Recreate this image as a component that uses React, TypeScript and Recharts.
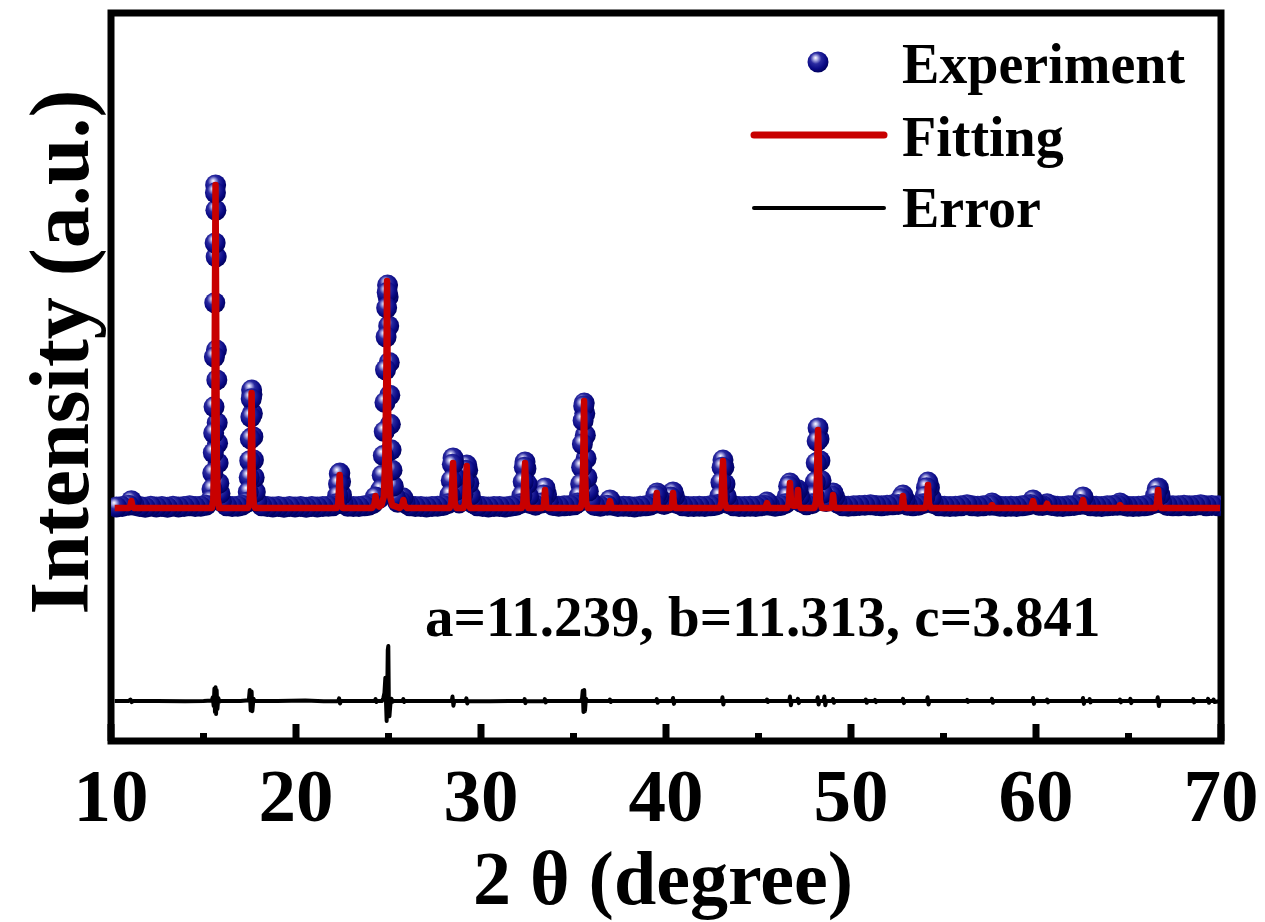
import React from "react";
import {
  ComposedChart,
  XAxis,
  YAxis,
  Scatter,
  Line,
  ReferenceArea,
  Legend,
} from "recharts";

const FONT = "'Times New Roman', 'Liberation Serif', Times, serif";

// 2θ (degree), intensity (a.u.)
const experimentPoints: [number, number][] = [
  [10.3, 15], [10.6, 20],
  [10.95, 40], [11.1, 100], [11.25, 40],
  [11.55, 20], [11.85, 10], [12.15, 25], [12.45, 15], [12.75, 20], [13.05, 10], [13.35, 25], [13.65, 15], [13.95, 20], [14.25, 30], [14.55, 20], [14.85, 25], [15.15, 40],
  [15.4, 110], [15.46, 260], [15.5, 480], [15.53, 760], [15.55, 1030], [15.57, 1390], [15.59, 2075], [15.61, 2820], [15.63, 3640], [15.645, 4330], [15.655, 4437], [15.67, 4090], [15.685, 3450], [15.7, 2170], [15.72, 1760], [15.74, 1170], [15.76, 890], [15.79, 620], [15.83, 340], [15.89, 200], [15.97, 90],
  [16.25, 30], [16.55, 20], [16.85, 25], [17.1, 40],
  [17.35, 80], [17.42, 220], [17.47, 420], [17.5, 650], [17.53, 950], [17.56, 1250], [17.58, 1500], [17.6, 1620], [17.62, 1560], [17.64, 1300], [17.67, 980], [17.7, 660], [17.74, 420], [17.8, 220], [17.88, 90],
  [18.15, 30], [18.45, 20], [18.75, 15], [19.05, 20], [19.35, 10], [19.65, 20], [19.95, 15], [20.25, 20], [20.55, 10], [20.85, 20], [21.15, 15], [21.45, 20], [21.75, 25], [22.0, 30],
  [22.18, 60], [22.25, 170], [22.3, 330], [22.34, 470], [22.37, 480], [22.41, 360], [22.46, 180], [22.54, 60],
  [22.8, 25], [23.1, 20], [23.4, 20], [23.7, 30], [23.95, 40],
  [24.15, 60], [24.28, 150], [24.36, 140], [24.48, 130], [24.58, 250], [24.66, 450], [24.72, 720], [24.77, 1050], [24.81, 1450], [24.84, 1900], [24.87, 2350], [24.9, 2750], [24.93, 2960], [24.95, 3063], [24.98, 2900], [25.01, 2500], [25.04, 2000], [25.07, 1550], [25.1, 1150], [25.14, 800], [25.19, 520], [25.26, 300], [25.36, 150], [25.5, 80], [25.66, 90], [25.78, 140], [25.9, 70],
  [26.15, 30], [26.45, 20], [26.75, 20], [27.05, 15], [27.35, 20], [27.65, 25], [27.95, 35],
  [28.22, 60], [28.32, 180], [28.39, 380], [28.45, 600], [28.49, 687], [28.53, 620], [28.58, 420], [28.64, 240], [28.72, 110], [28.82, 70], [28.92, 100], [29.02, 190], [29.1, 360], [29.17, 520], [29.23, 590], [29.28, 520], [29.34, 340], [29.42, 170], [29.52, 70],
  [29.8, 30], [30.1, 20], [30.4, 15], [30.7, 20], [31.0, 20], [31.3, 15], [31.6, 25], [31.88, 35],
  [32.12, 60], [32.21, 170], [32.28, 360], [32.34, 560], [32.38, 632], [32.43, 540], [32.49, 330], [32.57, 160], [32.67, 60],
  [32.95, 40],
  [33.28, 70], [33.37, 180], [33.46, 275], [33.54, 190], [33.64, 80],
  [33.9, 35], [34.2, 25], [34.5, 30], [34.8, 35], [35.05, 45],
  [35.22, 70], [35.32, 170], [35.39, 330], [35.44, 560], [35.48, 880], [35.52, 1200], [35.55, 1400], [35.58, 1442], [35.61, 1300], [35.64, 1000], [35.68, 680], [35.73, 420], [35.8, 230], [35.9, 100],
  [36.15, 35], [36.45, 25],
  [36.82, 40], [36.97, 110], [37.1, 40],
  [37.4, 20], [37.7, 25], [38.0, 20], [38.3, 15], [38.6, 25], [38.9, 30], [39.15, 40],
  [39.35, 60], [39.45, 170], [39.52, 206], [39.6, 150], [39.75, 60], [39.9, 50], [40.1, 70], [40.25, 150], [40.38, 220], [40.46, 160], [40.6, 60],
  [40.9, 30], [41.2, 20], [41.5, 20], [41.8, 25], [42.1, 20], [42.4, 30], [42.62, 35],
  [42.8, 50], [42.9, 160], [42.97, 350], [43.03, 560], [43.08, 659], [43.13, 560], [43.19, 330], [43.26, 160], [43.36, 60],
  [43.65, 30], [43.95, 20], [44.25, 20], [44.55, 25], [44.85, 20], [45.1, 30],
  [45.32, 40], [45.46, 82], [45.6, 40],
  [45.9, 25], [46.2, 35],
  [46.45, 60], [46.55, 160], [46.63, 300], [46.7, 343], [46.78, 280], [46.86, 200], [46.95, 180], [47.05, 230], [47.13, 250], [47.22, 160], [47.32, 80],
  [47.6, 45],
  [47.9, 60], [48.0, 170], [48.07, 360], [48.12, 620], [48.17, 920], [48.22, 1099], [48.27, 950], [48.32, 650], [48.38, 380], [48.46, 200], [48.56, 100],
  [48.66, 90], [48.8, 110], [48.92, 170], [49.03, 206], [49.12, 150], [49.25, 70],
  [49.55, 30], [49.85, 25], [50.15, 30], [50.45, 35], [50.75, 40], [51.05, 45], [51.35, 35], [51.65, 30], [51.95, 40], [52.25, 45],
  [52.55, 50], [52.7, 130], [52.81, 178], [52.92, 110], [53.05, 40],
  [53.35, 30], [53.65, 40],
  [53.9, 60], [54.0, 160], [54.08, 280], [54.16, 357], [54.24, 280], [54.33, 140], [54.45, 60],
  [54.75, 30], [55.05, 25], [55.35, 20], [55.65, 25], [55.95, 30], [56.27, 45], [56.55, 30], [56.85, 25], [57.15, 30],
  [57.5, 40], [57.62, 69], [57.74, 40],
  [58.05, 25], [58.35, 20], [58.65, 25], [58.95, 20], [59.25, 30], [59.5, 40],
  [59.7, 50], [59.84, 110], [59.96, 60], [60.15, 40], [60.35, 35], [60.6, 60], [60.85, 35],
  [61.15, 25], [61.45, 20], [61.75, 30], [62.05, 35],
  [62.38, 50], [62.54, 151], [62.68, 50],
  [62.95, 30], [63.25, 25], [63.55, 20], [63.85, 30], [64.15, 35],
  [64.4, 40], [64.54, 69], [64.68, 40],
  [64.95, 25], [65.25, 20], [65.55, 25], [65.85, 30], [66.1, 40],
  [66.35, 60], [66.46, 170], [66.55, 260], [66.62, 275], [66.7, 180], [66.8, 70],
  [67.1, 35], [67.4, 30], [67.7, 30], [68.0, 40], [68.3, 30], [68.6, 35], [68.9, 45], [69.2, 30], [69.5, 35], [69.85, 30],
];

const fittingPoints: [number, number][] = [
  [10.2, 0], [10.95, 0], [11.05, 30], [11.1, 96], [11.15, 30], [11.25, 0],
  [15.45, 0], [15.53, 120], [15.58, 700], [15.62, 2900], [15.65, 4437], [15.68, 2900], [15.72, 700], [15.77, 120], [15.85, 0],
  [17.4, 0], [17.48, 50], [17.53, 260], [17.57, 1000], [17.6, 1580], [17.63, 1000], [17.67, 260], [17.72, 50], [17.8, 0],
  [22.2, 0], [22.28, 60], [22.33, 290], [22.36, 453], [22.39, 290], [22.44, 60], [22.52, 0],
  [24.1, 0], [24.24, 50], [24.3, 165], [24.36, 50], [24.5, 20],
  [24.62, 40], [24.75, 160], [24.83, 700], [24.89, 2000], [24.92, 3118], [24.95, 2000], [25.01, 700], [25.09, 160], [25.2, 40],
  [25.6, 0], [25.74, 40], [25.8, 110], [25.86, 40], [26.0, 0],
  [28.3, 0], [28.4, 70], [28.45, 380], [28.49, 618], [28.53, 380], [28.58, 70], [28.68, 0],
  [29.05, 0], [29.14, 70], [29.19, 360], [29.23, 577], [29.27, 360], [29.32, 70], [29.42, 0],
  [32.2, 0], [32.29, 70], [32.34, 380], [32.38, 618], [32.42, 380], [32.47, 70], [32.56, 0],
  [33.32, 0], [33.4, 40], [33.46, 247], [33.52, 40], [33.6, 0],
  [35.38, 0], [35.46, 80], [35.51, 420], [35.54, 950], [35.57, 1470], [35.6, 950], [35.63, 420], [35.68, 80], [35.78, 0],
  [36.87, 0], [36.97, 96], [37.07, 0],
  [39.38, 0], [39.45, 50], [39.5, 206], [39.55, 50], [39.64, 0],
  [40.25, 0], [40.33, 50], [40.38, 206], [40.43, 50], [40.52, 0],
  [42.9, 0], [43.0, 80], [43.04, 400], [43.08, 646], [43.12, 400], [43.17, 80], [43.27, 0],
  [45.36, 0], [45.46, 69], [45.56, 0],
  [46.55, 0], [46.64, 60], [46.7, 343], [46.76, 80], [46.88, 30], [47.0, 30], [47.08, 60], [47.13, 247], [47.18, 50], [47.28, 0],
  [48.02, 0], [48.11, 90], [48.16, 420], [48.19, 800], [48.22, 1071], [48.25, 800], [48.28, 420], [48.33, 90], [48.43, 0],
  [48.9, 0], [48.98, 40], [49.03, 179], [49.08, 40], [49.18, 0],
  [52.68, 0], [52.76, 40], [52.81, 165], [52.86, 40], [52.95, 0],
  [54.0, 0], [54.09, 60], [54.16, 316], [54.22, 60], [54.32, 0],
  [57.52, 0], [57.62, 41], [57.72, 0],
  [59.72, 0], [59.84, 96], [59.94, 0],
  [60.5, 0], [60.6, 60], [60.7, 0],
  [62.42, 0], [62.54, 110], [62.64, 0],
  [64.44, 0], [64.54, 41], [64.64, 0],
  [66.45, 0], [66.53, 50], [66.6, 247], [66.66, 50], [66.76, 0],
  [69.95, 0],
];

// difference curve, drawn with an offset below the pattern
const errorPoints: [number, number][] = [
  [10.2, -2650], [10.95, -2650], [11.05, -2630], [11.12, -2665], [11.2, -2650], [12.5, -2650], [14.0, -2655], [15.0, -2650], [15.45, -2645],
  [15.5, -2600], [15.55, -2720], [15.59, -2480], [15.62, -2800], [15.65, -2460], [15.68, -2830], [15.71, -2500], [15.75, -2760], [15.8, -2610], [15.86, -2660], [15.92, -2650],
  [17.0, -2650], [17.45, -2640], [17.5, -2500], [17.55, -2780], [17.6, -2520], [17.64, -2790], [17.7, -2620], [17.76, -2650],
  [19.0, -2650], [20.5, -2645], [21.5, -2655], [22.28, -2650], [22.33, -2615], [22.38, -2685], [22.43, -2650],
  [23.5, -2650], [24.25, -2650], [24.3, -2625], [24.35, -2665], [24.4, -2650], [24.65, -2650], [24.72, -2610], [24.78, -2540], [24.83, -2330], [24.87, -2700], [24.9, -2925], [24.93, -2600], [24.96, -1950], [24.99, -1895], [25.02, -2700], [25.05, -2860], [25.1, -2700], [25.16, -2620], [25.22, -2660], [25.3, -2650], [25.75, -2650], [25.8, -2625], [25.85, -2665], [25.9, -2650],
  [27.5, -2650], [28.42, -2650], [28.46, -2590], [28.51, -2715], [28.56, -2650], [29.17, -2650], [29.21, -2615], [29.26, -2685], [29.3, -2650],
  [30.5, -2655], [31.5, -2650], [32.33, -2650], [32.36, -2625], [32.4, -2680], [32.44, -2650], [33.0, -2655], [33.42, -2650], [33.45, -2625], [33.5, -2670], [33.54, -2650], [34.5, -2650], [35.4, -2650],
  [35.46, -2620], [35.5, -2510], [35.54, -2800], [35.58, -2500], [35.62, -2790], [35.67, -2620], [35.73, -2650],
  [36.93, -2650], [36.97, -2630], [37.01, -2665], [37.05, -2650], [38.5, -2650], [39.46, -2650], [39.5, -2625], [39.55, -2675], [39.59, -2650], [40.34, -2650], [40.38, -2610], [40.43, -2690], [40.47, -2650], [41.5, -2650],
  [43.02, -2650], [43.05, -2600], [43.1, -2700], [43.14, -2650], [44.5, -2650], [45.42, -2650], [45.46, -2630], [45.5, -2665], [45.54, -2650],
  [46.66, -2650], [46.7, -2590], [46.75, -2710], [46.8, -2650], [47.09, -2650], [47.13, -2620], [47.18, -2680], [47.22, -2650],
  [48.16, -2650], [48.2, -2600], [48.25, -2700], [48.29, -2650], [48.52, -2650], [48.56, -2590], [48.61, -2710], [48.66, -2650], [48.99, -2650], [49.03, -2625], [49.08, -2675], [49.12, -2650],
  [50.76, -2650], [50.8, -2630], [50.85, -2675], [50.9, -2650], [51.26, -2650], [51.3, -2635], [51.35, -2665], [51.4, -2650], [52.77, -2650], [52.81, -2620], [52.86, -2680], [52.9, -2650],
  [54.1, -2650], [54.14, -2600], [54.19, -2700], [54.24, -2650], [55.5, -2650], [56.24, -2650], [56.28, -2635], [56.32, -2662], [56.36, -2650],
  [57.58, -2650], [57.62, -2620], [57.67, -2675], [57.71, -2650], [59.8, -2650], [59.84, -2610], [59.89, -2690], [59.93, -2650], [60.56, -2650], [60.6, -2630], [60.65, -2670], [60.69, -2650],
  [62.5, -2650], [62.54, -2610], [62.59, -2690], [62.63, -2650], [62.86, -2650], [62.9, -2625], [62.95, -2670], [62.99, -2650], [64.5, -2650], [64.54, -2630], [64.59, -2670], [64.63, -2650],
  [65.06, -2650], [65.1, -2620], [65.15, -2680], [65.19, -2650], [66.54, -2650], [66.58, -2600], [66.64, -2720], [66.69, -2650],
  [67.5, -2650], [68.46, -2650], [68.5, -2625], [68.55, -2670], [68.59, -2650], [69.26, -2650], [69.3, -2620], [69.35, -2675], [69.4, -2650], [69.56, -2650], [69.6, -2630], [69.65, -2665], [69.95, -2650],
];

const xTicks = [10, 15, 20, 25, 30, 35, 40, 45, 50, 55, 60, 65, 70];
const cellText = "a=11.239, b=11.313, c=3.841";

const toRows = (pts: [number, number][]) => pts.map(([x, y]) => ({ x, y }));
// drawn right to left so the highlight only shows where the pattern rises
const experimentData = toRows(experimentPoints).reverse();
const fittingData = toRows(fittingPoints);
const errorData = toRows(errorPoints);

const Sphere = (props: any) => (
  <circle cx={props.cx} cy={props.cy} r={10.5} fill="url(#sphereFill)" />
);

const XTick = (props: any) => {
  const { x, y, payload } = props;
  const major = payload.value % 10 === 0;
  return (
    <g>
      <line x1={x} x2={x} y1={y} y2={y - (major ? 17 : 8)} stroke="#000" strokeWidth={7} />
      {major && (
        <text x={x} y={y + 80} textAnchor="middle" fontFamily={FONT} fontWeight="bold" fontSize={75} fill="#000">
          {payload.value}
        </text>
      )}
    </g>
  );
};

const LegendBox = () => (
  <svg width={480} height={230} style={{ display: "block" }}>
    <defs>
      <radialGradient id="legendSphere" cx="0.42" cy="0.38" r="0.62" fx="0.38" fy="0.3">
        <stop offset="0" stopColor="#ffffff" />
        <stop offset="0.15" stopColor="#b8b8ea" />
        <stop offset="0.42" stopColor="#2a2aa0" />
        <stop offset="0.75" stopColor="#0a0a86" />
        <stop offset="1" stopColor="#00005e" />
      </radialGradient>
    </defs>
    <circle cx={78} cy={42} r={10.5} fill="url(#legendSphere)" />
    <text x={162} y={63} fontFamily={FONT} fontWeight="bold" fontSize={56}>Experiment</text>
    <line x1={14} x2={144} y1={115} y2={115} stroke="#c80000" strokeWidth={7} strokeLinecap="round" />
    <text x={162} y={136} fontFamily={FONT} fontWeight="bold" fontSize={56}>Fitting</text>
    <line x1={14} x2={144} y1={188} y2={188} stroke="#000" strokeWidth={4} strokeLinecap="round" />
    <text x={162} y={207} fontFamily={FONT} fontWeight="bold" fontSize={56}>Error</text>
  </svg>
);

export default function App() {
  return (
    <div style={{ position: "absolute", left: 0, top: 0 }}>
      <ComposedChart
        width={1265}
        height={922}
        margin={{ top: 13, right: 44, left: 111, bottom: 0 }}
      >
        <defs>
          <radialGradient id="sphereFill" cx="0.42" cy="0.38" r="0.62" fx="0.38" fy="0.3">
            <stop offset="0" stopColor="#ffffff" />
            <stop offset="0.15" stopColor="#b8b8ea" />
            <stop offset="0.42" stopColor="#2a2aa0" />
            <stop offset="0.75" stopColor="#0a0a86" />
            <stop offset="1" stopColor="#00005e" />
          </radialGradient>
        </defs>
        <XAxis
          type="number"
          dataKey="x"
          domain={[10, 70]}
          ticks={xTicks}
          allowDataOverflow
          height={181}
          tickSize={0}
          tickMargin={0}
          axisLine={false}
          tickLine={false}
          tick={<XTick />}
          interval={0}
        />
        <YAxis type="number" dataKey="y" domain={[-3200, 6800]} allowDataOverflow hide />
        <ReferenceArea x1={10} x2={70} y1={-3200} y2={6800} fill="none" stroke="#000" strokeWidth={7} />
        <Scatter data={experimentData} dataKey="y" shape={<Sphere />} isAnimationActive={false} zIndex={500} />
        <Line
          data={fittingData}
          dataKey="y"
          type="linear"
          stroke="#c80000"
          strokeWidth={6.5}
          strokeLinejoin="round"
          dot={false}
          activeDot={false}
          isAnimationActive={false}
          zIndex={700}
        />
        <Line
          data={errorData}
          dataKey="y"
          type="linear"
          stroke="#000"
          strokeWidth={4}
          strokeLinejoin="round"
          dot={false}
          activeDot={false}
          isAnimationActive={false}
          zIndex={700}
        />
        <Legend
          layout="horizontal"
          verticalAlign="middle"
          content={() => <LegendBox />}
          wrapperStyle={{ position: "absolute", left: 740, top: 20, width: 480, height: 230 }}
        />
        <text x={425} y={636} fontFamily={FONT} fontWeight="bold" fontSize={57} fill="#000">
          {cellText}
        </text>
        <text
          x={88}
          y={352}
          transform="rotate(-90, 88, 352)"
          textAnchor="middle"
          fontFamily={FONT}
          fontWeight="bold"
          fontSize={84}
          fill="#000"
        >
          Intensity (a.u.)
        </text>
        <text x={663} y={904} textAnchor="middle" fontFamily={FONT} fontWeight="bold" fontSize={76} fill="#000">
          2 θ (degree)
        </text>
      </ComposedChart>
    </div>
  );
}
